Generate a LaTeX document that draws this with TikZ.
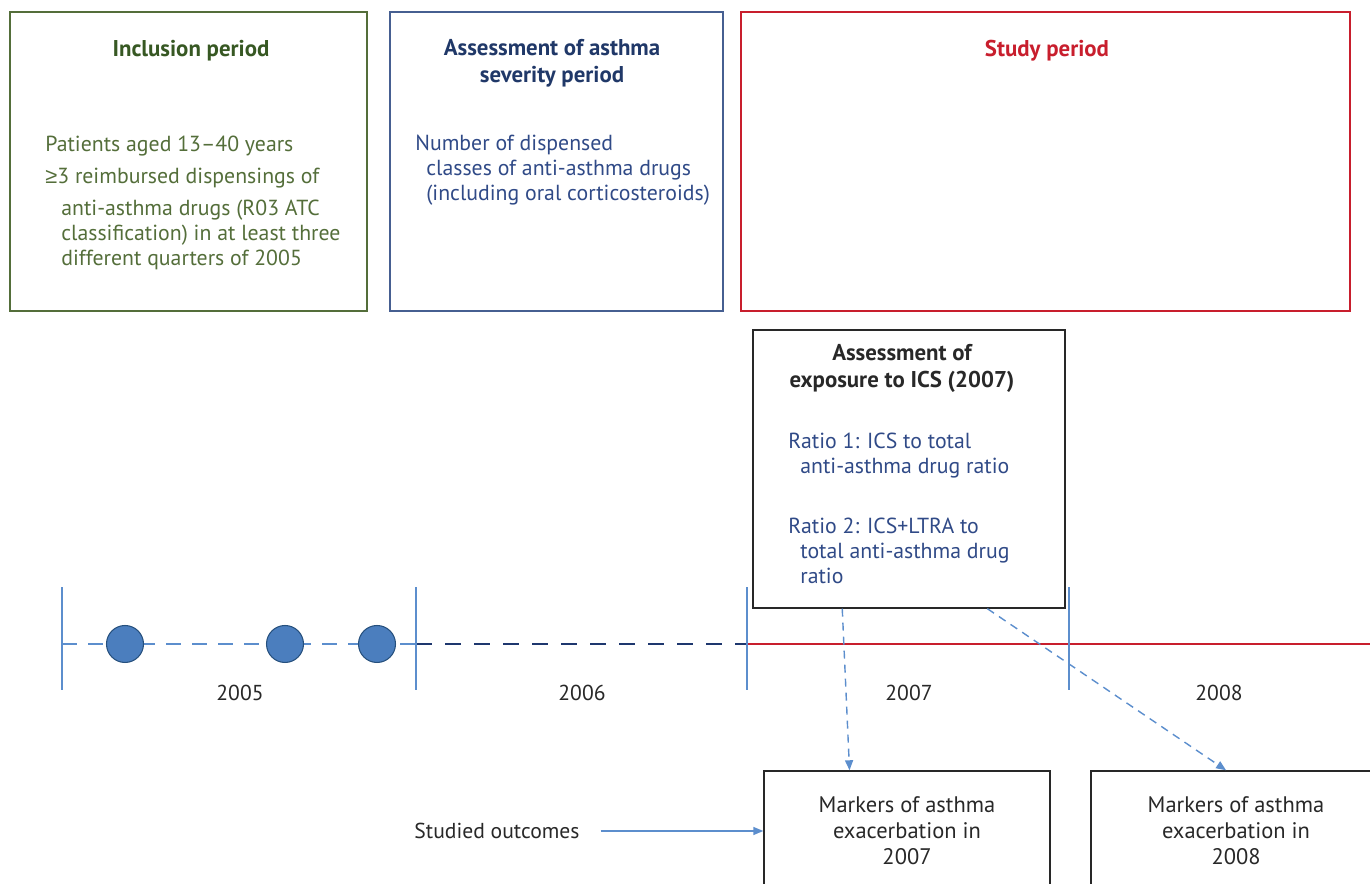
\documentclass[tikz,border=0pt]{standalone}
\usepackage{fontspec}
\setmainfont{PT Sans}
\newfontfamily\symfont{Liberation Sans}
\usepackage{tikz}
\usetikzlibrary{arrows.meta, positioning, calc}
\usepackage{xcolor}
\definecolor{inclgreen}{RGB}{84, 110, 58}
\definecolor{titlegreen}{RGB}{55, 88, 35}
\definecolor{sevblue}{RGB}{70, 95, 145}
\definecolor{titleblue}{RGB}{32, 56, 104}
\definecolor{textblue}{RGB}{48, 74, 135}
\definecolor{studyred}{RGB}{200, 30, 45}
\definecolor{lineblue}{RGB}{92, 142, 205}
\definecolor{dotblue}{RGB}{75, 126, 190}
\definecolor{dotedge}{RGB}{38, 80, 125}
\definecolor{navyline}{RGB}{30, 55, 110}
\definecolor{inkgray}{RGB}{40, 40, 40}
\tikzset{
    period box/.style={
        rectangle,
        line width=0.9pt,
        minimum height=5.98cm,
        inner sep=0pt
    },
    box title/.style={
        align=center,
        font=\fontsize{13}{15.3}\selectfont\bfseries
    },
    body text/.style={
        anchor=base west,
        align=left,
        inner sep=0pt,
        font=\fontsize{12.4}{14.5}\selectfont
    },
    outcome box/.style={
        rectangle,
        draw=inkgray,
        line width=0.8pt,
        minimum height=2.4cm,
        align=center,
        text=inkgray,
        font=\fontsize{12.8}{14.8}\selectfont
    },
    dot/.style={
        circle,
        fill=dotblue,
        draw=dotedge,
        line width=0.6pt,
        minimum size=0.74cm,
        inner sep=0pt
    },
    tick/.style={
        draw=lineblue,
        line width=0.8pt
    },
    year/.style={
        text=inkgray,
        font=\fontsize{12.3}{14}\selectfont
    },
    link/.style={
        -{Triangle[length=2mm, width=1.6mm]},
        draw=lineblue,
        line width=0.8pt,
        dash pattern=on 0.16cm off 0.12cm
    },
    outcome arrow/.style={
        -{Triangle[length=2mm, width=1.6mm]},
        draw=lineblue,
        line width=0.8pt
    }
}

\begin{document}
\begin{tikzpicture}

\useasboundingbox (0, 0) rectangle (27.4, 17.68);

% === PERIOD BOXES ===

% Inclusion period (text node anchored on its last baseline)
\node[period box, draw=inclgreen, minimum width=7.14cm] (inclusion) at (3.77, 14.45) {};
\node[box title, text=titlegreen] (inclusion_title) at (3.82, 16.66) {Inclusion period};
\node[body text, text=inclgreen] (inclusion_text) at (0.9, 12.36) {
    Patients aged 13--40 years\\[0.13cm]
    {\symfont ≥}3 reimbursed dispensings of\\[0.13cm]
    \hspace*{0.32cm}anti-asthma drugs (R03 ATC\\
    \hspace*{0.32cm}classification) in at least three\\
    \hspace*{0.32cm}different quarters of 2005
};

% Asthma severity period
\node[period box, draw=sevblue, minimum width=6.66cm] (severity) at (11.13, 14.45) {};
\node[box title, text=titleblue] (severity_title) at (11.04, 16.41) {
    Assessment of asthma\\
    severity period
};
\node[body text, text=textblue] (severity_text) at (8.3, 13.66) {
    Number of dispensed\\
    \hspace*{0.22cm}classes of anti-asthma drugs\\
    \hspace*{0.22cm}(including oral corticosteroids)
};

% Study period
\node[period box, draw=studyred, minimum width=12.18cm] (study) at (20.91, 14.45) {};
\node[box title, text=studyred] (study_title) at (20.94, 16.66) {Study period};

% Exposure to ICS
\node[rectangle, draw=inkgray, line width=0.8pt, minimum width=6.24cm,
      minimum height=5.56cm, inner sep=0pt] (exposure) at (18.18, 8.3) {};
\node[box title, text=inkgray] (exposure_title) at (18.04, 10.31) {
    Assessment of\\
    exposure to ICS (2007)
};
\node[body text, text=textblue] (exposure_text) at (15.76, 6.0) {
    Ratio 1: ICS to total\\
    \hspace*{0.24cm}anti-asthma drug ratio\\[0.68cm]
    Ratio 2: ICS+LTRA to\\
    \hspace*{0.24cm}total anti-asthma drug\\
    \hspace*{0.24cm}ratio
};

% === TIMELINE ===

\draw[lineblue, line width=0.8pt, dash pattern=on 0.3cm off 0.22cm] (1.24, 4.8) -- (8.32, 4.8);
\draw[navyline, line width=0.8pt, dash pattern=on 0.32cm off 0.26cm] (8.32, 4.8) -- (14.94, 4.8);
\draw[studyred, line width=0.8pt] (14.94, 4.8) -- (27.4, 4.8);

\foreach \x in {1.24, 8.32, 14.94, 21.38}
    \draw[tick] (\x, 3.88) -- (\x, 5.94);

% Dispensings in 2005
\foreach \x [count=\i] in {2.5, 5.7, 7.54}
    \node[dot] (dot_\i) at (\x, 4.8) {};

% Years
\node[year] (y2005) at (4.8, 3.82) {2005};
\node[year] (y2006) at (11.64, 3.82) {2006};
\node[year] (y2007) at (18.18, 3.82) {2007};
\node[year] (y2008) at (24.38, 3.82) {2008};

% === OUTCOMES ===

\node[outcome box, minimum width=5.72cm] (out_2007) at (18.14, 1.06) {
    Markers of asthma\\
    exacerbation in\\
    2007
};
\node[outcome box, minimum width=5.8cm] (out_2008) at (24.72, 1.06) {
    Markers of asthma\\
    exacerbation in\\
    2008
};

\node[year] (studied) at (9.94, 1.06) {Studied outcomes};
\draw[outcome arrow, shorten <=0.3cm] (studied.east) -- (out_2007.west);

% Exposure -> outcomes
\draw[link] ($(exposure.south west)!0.287!(exposure.south east)$)
    -- ($(out_2007.north west)!0.3!(out_2007.north east)$);
\draw[link] ($(exposure.south west)!0.75!(exposure.south east)$)
    -- ($(out_2008.north west)!0.466!(out_2008.north east)$);

\end{tikzpicture}
\end{document}
